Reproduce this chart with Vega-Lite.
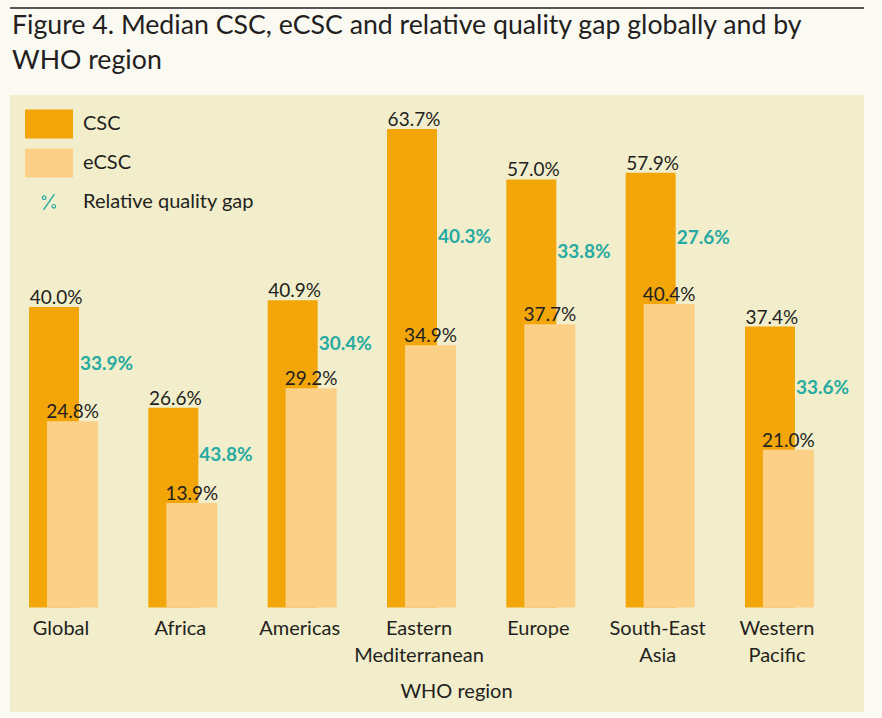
{
  "$schema": "https://vega.github.io/schema/vega-lite/v6.json",
  "autosize": {"type": "none"},
  "padding": {"left": 10, "top": 95, "right": 18, "bottom": 6},
  "width": 854,
  "height": 617,
  "background": "#fafaf3",
  "title": {
    "text": ["Figure 4. Median CSC, eCSC and relative quality gap globally and by", "WHO region"],
    "anchor": "start",
    "frame": "group",
    "dx": 2,
    "offset": -67,
    "font": "Lato",
    "fontSize": 26.7,
    "fontWeight": "normal",
    "color": "#231f20",
    "lineHeight": 35
  },
  "data": {
    "values": [
      {"region": "Global", "CSC": 0.400, "eCSC": 0.248, "gap": 0.339},
      {"region": "Africa", "CSC": 0.266, "eCSC": 0.139, "gap": 0.438},
      {"region": "Americas", "CSC": 0.409, "eCSC": 0.292, "gap": 0.304},
      {"region": "Eastern Mediterranean", "CSC": 0.637, "eCSC": 0.349, "gap": 0.403},
      {"region": "Europe", "CSC": 0.570, "eCSC": 0.377, "gap": 0.338},
      {"region": "South-East Asia", "CSC": 0.579, "eCSC": 0.404, "gap": 0.276},
      {"region": "Western Pacific", "CSC": 0.374, "eCSC": 0.210, "gap": 0.336}
    ]
  },
  "encoding": {
    "x": {
      "field": "region",
      "type": "nominal",
      "sort": null,
      "scale": {"paddingInner": 0, "paddingOuter": 0.0785, "align": 0.5},
      "axis": {
        "title": "WHO region",
        "orient": "bottom",
        "offset": -94,
        "domain": false,
        "ticks": false,
        "grid": false,
        "labelAngle": 0,
        "labelPadding": 0,
        "labelOverlap": false,
        "labelBound": false,
        "labelFont": "Lato",
        "labelFontSize": 20,
        "labelColor": "#231f20",
        "labelLineHeight": 27,
        "labelBaseline": "top",
        "labelOffset": -18,
        "labelExpr": "split(datum.label, ' ')",
        "titleX": 446,
        "titleY": 79,
        "titleBaseline": "alphabetic",
        "titleFont": "Lato",
        "titleFontSize": 20,
        "titleFontWeight": "normal",
        "titleColor": "#231f20"
      }
    }
  },
  "layer": [
    {
      "mark": {"type": "bar", "width": 50, "xOffset": -25},
      "encoding": {
        "y": {"field": "CSC", "type": "quantitative", "scale": {"domain": [-0.1392, 0.6824], "nice": false, "zero": false}, "axis": null},
        "y2": {"datum": 0},
        "color": {
          "datum": "CSC",
          "type": "nominal",
          "scale": {"domain": ["CSC", "eCSC", "Relative quality gap"], "range": ["#f2a60a", "#fdd088", "#27aaa1"]},
          "legend": {
            "orient": "none",
            "legendX": 15,
            "legendY": 5,
            "title": null,
            "padding": 0,
            "symbolSize": 2304,
            "symbolType": "M-1,-0.604H1V0.604H-1Z",
            "symbolStrokeWidth": 0,
            "labelFont": "Lato",
            "labelFontSize": 20,
            "labelColor": "#231f20",
            "labelOffset": 10,
            "labelLimit": 300,
            "rowPadding": -14.5,
            "encode": {
              "symbols": {
                "update": {
                  "shape": {"signal": "datum.value === 'Relative quality gap' ? 'M-0.1,-0.18A0.1,0.1 0 1 0 -0.3,-0.18A0.1,0.1 0 1 0 -0.1,-0.18ZM-0.15,-0.18A0.05,0.05 0 1 1 -0.25,-0.18A0.05,0.05 0 1 1 -0.15,-0.18ZM0.3,0.18A0.1,0.1 0 1 0 0.1,0.18A0.1,0.1 0 1 0 0.3,0.18ZM0.25,0.18A0.05,0.05 0 1 1 0.15,0.18A0.05,0.05 0 1 1 0.25,0.18ZM0.19,-0.32L0.26,-0.32L-0.19,0.32L-0.26,0.32Z' : 'M-1,-0.604H1V0.604H-1Z'"}
                }
              }
            }
          }
        }
      }
    },
    {
      "mark": {"type": "bar", "width": 51, "xOffset": -6.5},
      "encoding": {
        "y": {"field": "eCSC", "type": "quantitative"},
        "y2": {"datum": 0},
        "color": {"datum": "eCSC", "type": "nominal"}
      }
    },
    {
      "mark": {"type": "text", "xOffset": -23, "dy": -3, "baseline": "alphabetic", "align": "center", "font": "Lato", "fontSize": 19, "color": "#231f20"},
      "encoding": {
        "y": {"field": "CSC", "type": "quantitative"},
        "text": {"field": "CSC", "type": "quantitative", "format": ".1%"}
      }
    },
    {
      "mark": {"type": "text", "xOffset": -6.5, "dy": -3, "baseline": "alphabetic", "align": "center", "font": "Lato", "fontSize": 19, "color": "#231f20"},
      "encoding": {
        "y": {"field": "eCSC", "type": "quantitative"},
        "text": {"field": "eCSC", "type": "quantitative", "format": ".1%"}
      }
    },
    {
      "transform": [
        {"fold": ["CSC", "eCSC"], "as": ["series", "value"]},
        {"aggregate": [{"op": "mean", "field": "value", "as": "mid"}], "groupby": ["region", "gap"]}
      ],
      "mark": {"type": "text", "xOffset": 1, "baseline": "middle", "align": "left", "font": "Lato", "fontSize": 19, "fontWeight": "bold", "color": "#27aaa1"},
      "encoding": {
        "y": {"field": "mid", "type": "quantitative"},
        "text": {"field": "gap", "type": "quantitative", "format": ".1%"}
      }
    },
    {
      "data": {"values": [{}]},
      "mark": {"type": "rule", "color": "#231f20", "strokeWidth": 1.5},
      "encoding": {
        "x": null,
        "y": {"datum": 0.7983}
      }
    }
  ],
  "config": {
    "view": {"stroke": null, "fill": "#f2eecb"}
  }
}
